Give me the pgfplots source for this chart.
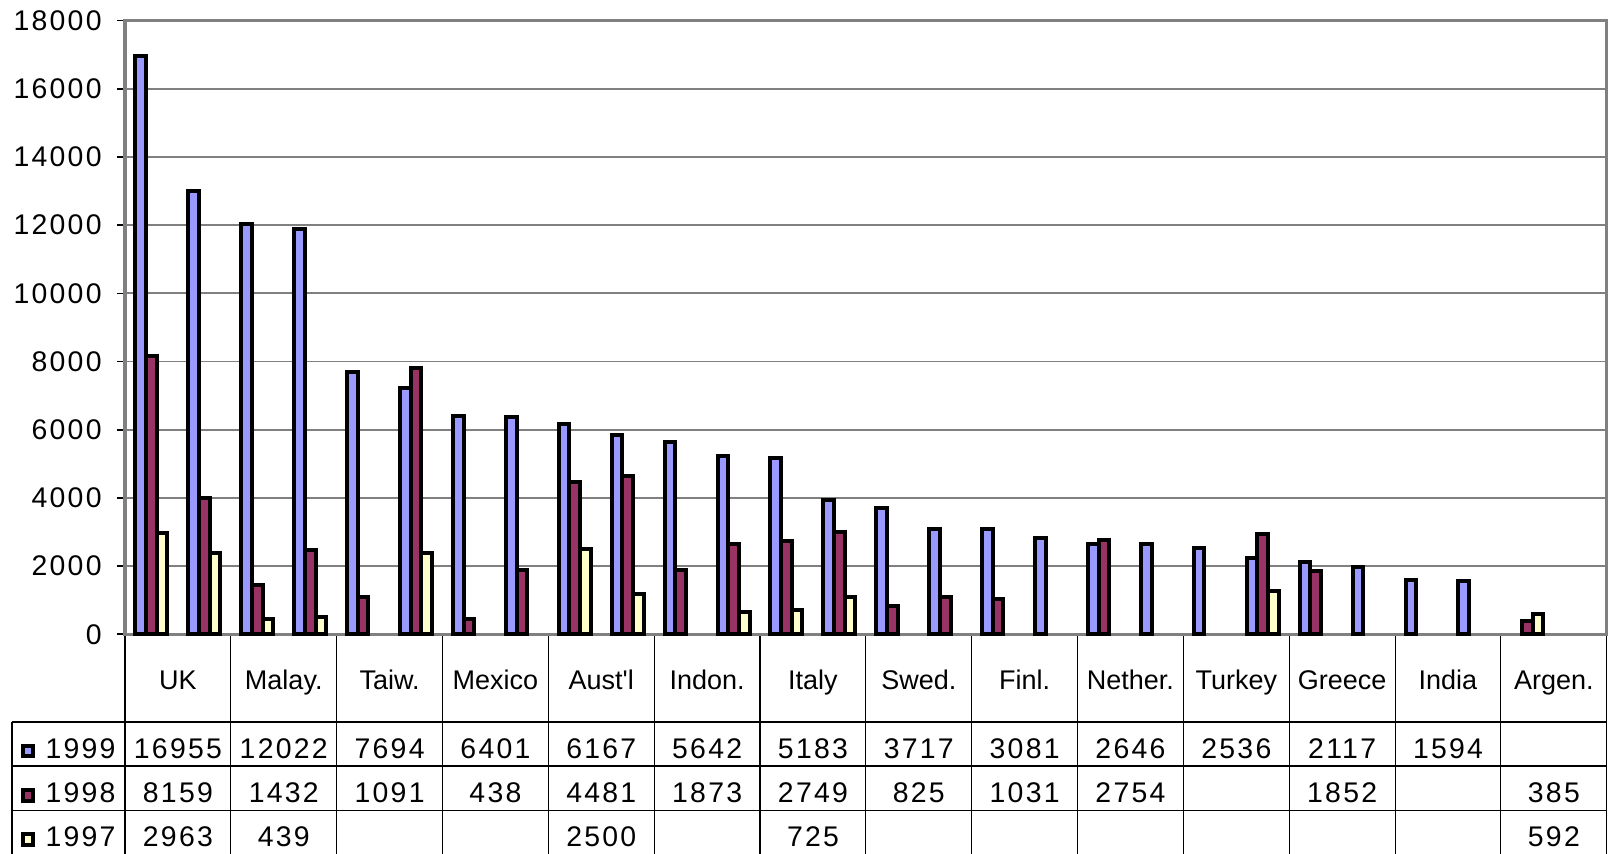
\documentclass[border=0pt]{standalone}
\usepackage{pgfplots}
\pgfplotsset{compat=1.18}
\usepackage{fontspec}
\setmainfont{Liberation Sans}
\newfontfamily\numfont[LetterSpace=8]{Liberation Sans}
\definecolor{cb}{HTML}{9999FF}
\definecolor{cr}{HTML}{993366}
\definecolor{cy}{HTML}{FFFFCC}
\definecolor{gl}{RGB}{128,128,128}
\newcommand\nf{\numfont\fontsize{14.2pt}{16pt}\selectfont}
\newcommand\cf{\fontsize{13.5pt}{16pt}\selectfont}
\begin{document}
\begin{tikzpicture}
\begin{axis}[
  at={(62.5pt,109.85pt)}, anchor=south west,
  scale only axis, width=740.85pt, height=306.8pt,
  xmin=0.5, xmax=28.5, ymin=0, ymax=18000,
  ybar, bar width=5.33pt,
  ytick={0,2000,...,18000},
  scaled y ticks=false,
  /pgf/number format/1000 sep={},
  /pgf/number format/assume math mode=true,
  yticklabel style={font=\nf, anchor=east, inner sep=0pt, xshift=-7.5pt},
  xtick={1.5,3.5,...,27.5},
  xticklabels={UK,Malay.,Taiw.,Mexico,Aust\textquotesingle l,Indon.,Italy,Swed.,Finl.,Nether.,Turkey,Greece,India,Argen.},
  xticklabel style={font=\cf, anchor=base, inner sep=0pt, yshift=-23.5pt},
  xtick style={draw=none},
  ytick pos=left,
  tick align=outside,
  major tick length=4pt,
  ytick style={black, line width=0.8pt},
  ymajorgrids,
  major grid style={gl, line width=0.9pt},
  axis line style={gl, line width=1.6pt},
  clip=false,
]
% 1999
\addplot[fill=cb, draw=black, line width=2pt, bar shift=-5.33pt] coordinates {
(1,16955) (2,13000) (3,12022) (4,11880) (5,7694) (6,7215) (7,6401) (8,6380)
(9,6167) (10,5850) (11,5642) (12,5230) (13,5183) (14,3940) (15,3717) (16,3090)
(17,3081) (18,2830) (19,2646) (20,2650) (21,2536) (22,2230) (23,2117) (24,1960)
(25,1594) (26,1550)};
% 1998
\addplot[fill=cr, draw=black, line width=2pt, bar shift=0pt] coordinates {
(1,8159) (2,4010) (3,1432) (4,2480) (5,1091) (6,7820) (7,438) (8,1880)
(9,4481) (10,4650) (11,1873) (12,2650) (13,2749) (14,3000) (15,825) (16,1100)
(17,1031) (19,2754) (22,2930) (23,1852) (27,385)};
% 1997
\addplot[fill=cy, draw=black, line width=2pt, bar shift=5.33pt] coordinates {
(1,2963) (2,2390) (3,439) (4,500) (6,2380) (9,2500) (10,1190) (12,660)
(13,725) (14,1100) (22,1280) (27,592)};
\end{axis}
\begin{scope}[x=0.5pt, y=-0.5pt, yshift=427pt, line width=0.55pt]
  \draw (12,722) -- (1606,722);
  \draw (12,766) -- (1606,766);
  \draw (12,810.7) -- (1606,810.7);
  \draw (12,722) -- (12,854);
  \draw (125,636) -- (125,854);
  \foreach \k in {1,...,14} \draw (125+\k*105.84,636) -- (125+\k*105.84,854);
  \foreach \v [count=\i from 0] in {16955,12022,7694,6401,6167,5642,5183,3717,3081,2646,2536,2117,1594,{}}
    \node[anchor=base, inner sep=0pt, font=\nf] at (177.92+\i*105.84,758.3) {\v};
  \foreach \v [count=\i from 0] in {8159,1432,1091,438,4481,1873,2749,825,1031,2754,{},1852,{},385}
    \node[anchor=base, inner sep=0pt, font=\nf] at (177.92+\i*105.84,802.7) {\v};
  \foreach \v [count=\i from 0] in {2963,439,{},{},2500,{},725,{},{},{},{},{},{},592}
    \node[anchor=base, inner sep=0pt, font=\nf] at (177.92+\i*105.84,846.7) {\v};
  \draw[fill=cb, line width=2pt] (22.7,745.7) rectangle (33.0,756.2);
  \draw[fill=cr, line width=2pt] (22.7,790.4) rectangle (33.0,800.9);
  \draw[fill=cy, line width=2pt] (22.7,834.4) rectangle (33.0,844.9);
  \node[anchor=base west, inner sep=0pt, font=\nf] at (45,758.3) {1999};
  \node[anchor=base west, inner sep=0pt, font=\nf] at (45,802.7) {1998};
  \node[anchor=base west, inner sep=0pt, font=\nf] at (45,846.7) {1997};
\end{scope}
\pgfresetboundingbox
\path[use as bounding box] (0,0) rectangle (806pt,427pt);
\end{tikzpicture}
\end{document}
